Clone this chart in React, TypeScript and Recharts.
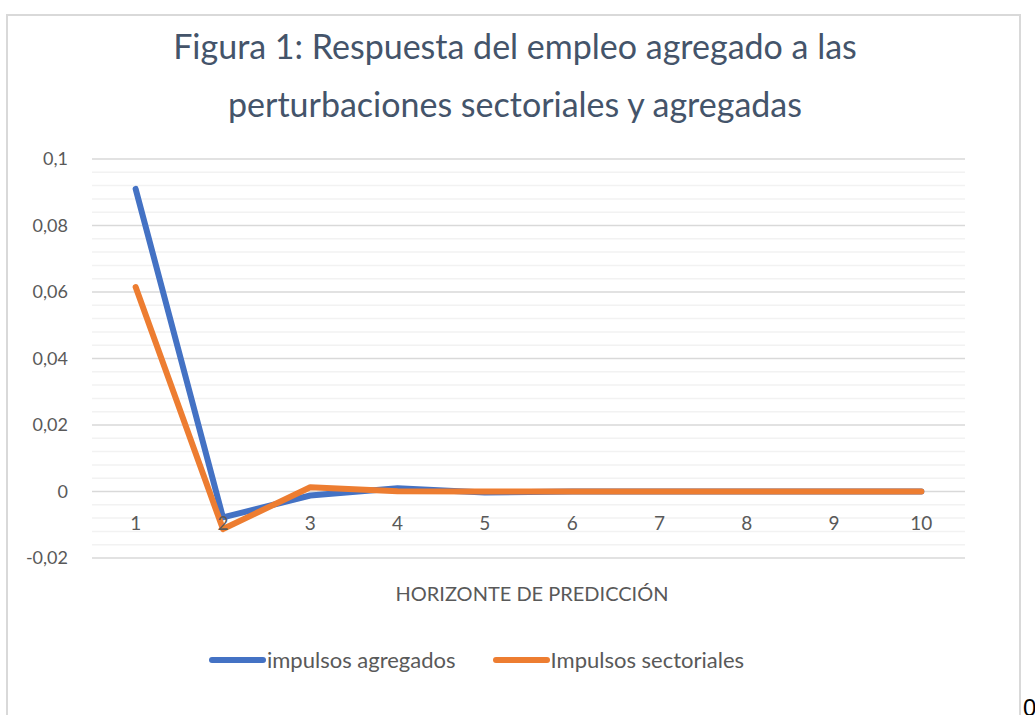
import { LineChart, XAxis, YAxis, Line, Legend, ReferenceLine } from 'recharts';

const categories = ['1', '2', '3', '4', '5', '6', '7', '8', '9', '10'];
const agregados = [0.091, -0.0078, -0.0012, 0.001, -0.0003, 0, 0, 0, 0, 0];
const sectoriales = [0.0615, -0.0113, 0.0013, 0.0001, 0, 0, 0, 0, 0, 0];
const seriesNames = ['impulsos agregados', 'Impulsos sectoriales'];
const yTicks = [-0.02, 0, 0.02, 0.04, 0.06, 0.08, 0.1];
const gridTicks = [
  -0.02, -0.016, -0.012, -0.008, -0.004, 0, 0.004, 0.008, 0.012, 0.016, 0.02, 0.024, 0.028, 0.032,
  0.036, 0.04, 0.044, 0.048, 0.052, 0.056, 0.06, 0.064, 0.068, 0.072, 0.076, 0.08, 0.084, 0.088,
  0.092, 0.096, 0.1,
];

const data = categories.map((name, i) => ({
  name,
  agregados: agregados[i],
  sectoriales: sectoriales[i],
}));

const FONT = 'Lato, "Noto Sans", sans-serif';

const fmt = (v: number) => {
  const r = Math.round(v * 100) / 100;
  return String(r).replace('.', ',');
};

const isMajor = (v: number) => Math.abs(Math.round(v * 50) - v * 50) < 1e-6;

const XTick = (props: any) => {
  const { x, y, payload } = props;
  return (
    <text x={x} y={y - 28} textAnchor="middle" fill="#595959" fontSize={19} fontFamily={FONT}>
      {payload.value}
    </text>
  );
};

const YTick = (props: any) => {
  const { x, y, payload } = props;
  return (
    <text x={x} y={y + 6} textAnchor="end" fill="#595959" fontSize={18} fontFamily={FONT}>
      {fmt(payload.value)}
    </text>
  );
};

const LegendContent = (props: any) => {
  const items = [...(props.payload || [])].sort(
    (a: any, b: any) => seriesNames.indexOf(a.value) - seriesNames.indexOf(b.value)
  );
  return (
    <div style={{ display: 'flex', paddingLeft: 208, fontFamily: FONT, fontSize: 22, color: '#595959' }}>
      {items.map((p: any, i: number) => (
        <div key={i} style={{ display: 'flex', alignItems: 'center', marginRight: i === 0 ? 36 : 0 }}>
          <svg width={58} height={10} style={{ marginRight: 1 }}>
            <line x1={4} y1={5} x2={55} y2={5} stroke={p.color} strokeWidth={6} strokeLinecap="round" />
          </svg>
          <span>{p.value}</span>
        </div>
      ))}
    </div>
  );
};

export default function App() {
  return (
    <div style={{ position: 'absolute', left: 0, top: 0, width: 1035, height: 715, overflow: 'hidden', background: '#fff' }}>
      <div
        style={{
          position: 'absolute',
          left: 6,
          top: 14,
          width: 1015,
          height: 720,
          border: '2px solid #D9D9D9',
          boxSizing: 'border-box',
        }}
      />
      <div
        style={{
          position: 'absolute',
          left: 0,
          top: 17,
          width: 1030,
          textAlign: 'center',
          fontFamily: FONT,
          fontSize: 34,
          lineHeight: '58px',
          color: '#44546A',
        }}
      >
        <div>Figura 1: Respuesta del empleo agregado a las</div>
        <div>perturbaciones sectoriales y agregadas</div>
      </div>
      <div
        style={{
          position: 'absolute',
          left: 92,
          top: 581,
          width: 880,
          textAlign: 'center',
          fontFamily: FONT,
          fontSize: 20,
          color: '#595959',
        }}
      >
        HORIZONTE DE PREDICCIÓN
      </div>
      <div
        style={{
          position: 'absolute',
          left: 1023,
          top: 694,
          fontFamily: '"Liberation Sans", sans-serif',
          fontSize: 24,
          color: '#000',
        }}
      >
        0
      </div>
      <LineChart
        width={1035}
        height={715}
        data={data}
        margin={{ top: 132, right: 70, left: 0, bottom: 0 }}
        style={{ position: 'absolute', left: 0, top: 0 }}
      >
        {gridTicks.map((v) => (
          <ReferenceLine
            key={v}
            y={v}
            stroke={isMajor(v) ? '#D9D9D9' : '#F2F2F2'}
            strokeWidth={1.5}
          />
        ))}
        <XAxis
          dataKey="name"
          scale="band"
          axisLine={false}
          tickLine={false}
          tickSize={0}
          tickMargin={0}
          height={157}
          interval={0}
          tick={<XTick />}
        />
        <YAxis
          domain={[-0.02, 0.1]}
          ticks={yTicks}
          type="number"
          axisLine={false}
          tickLine={false}
          tickSize={0}
          tickMargin={0}
          width={92}
          interval={0}
          tick={(p: any) => <YTick {...p} x={68} />}
        />
        <Line
          dataKey="agregados"
          name={seriesNames[0]}
          stroke="#4472C4"
          strokeWidth={6}
          strokeLinecap="round"
          strokeLinejoin="round"
          dot={false}
          isAnimationActive={false}
        />
        <Line
          dataKey="sectoriales"
          name={seriesNames[1]}
          stroke="#ED7D31"
          strokeWidth={6}
          strokeLinecap="round"
          strokeLinejoin="round"
          dot={false}
          isAnimationActive={false}
        />
        <Legend
          content={<LegendContent />}
          verticalAlign="top"
          wrapperStyle={{ position: 'absolute', top: 646, left: 0, width: 1035 }}
        />
      </LineChart>
    </div>
  );
}
